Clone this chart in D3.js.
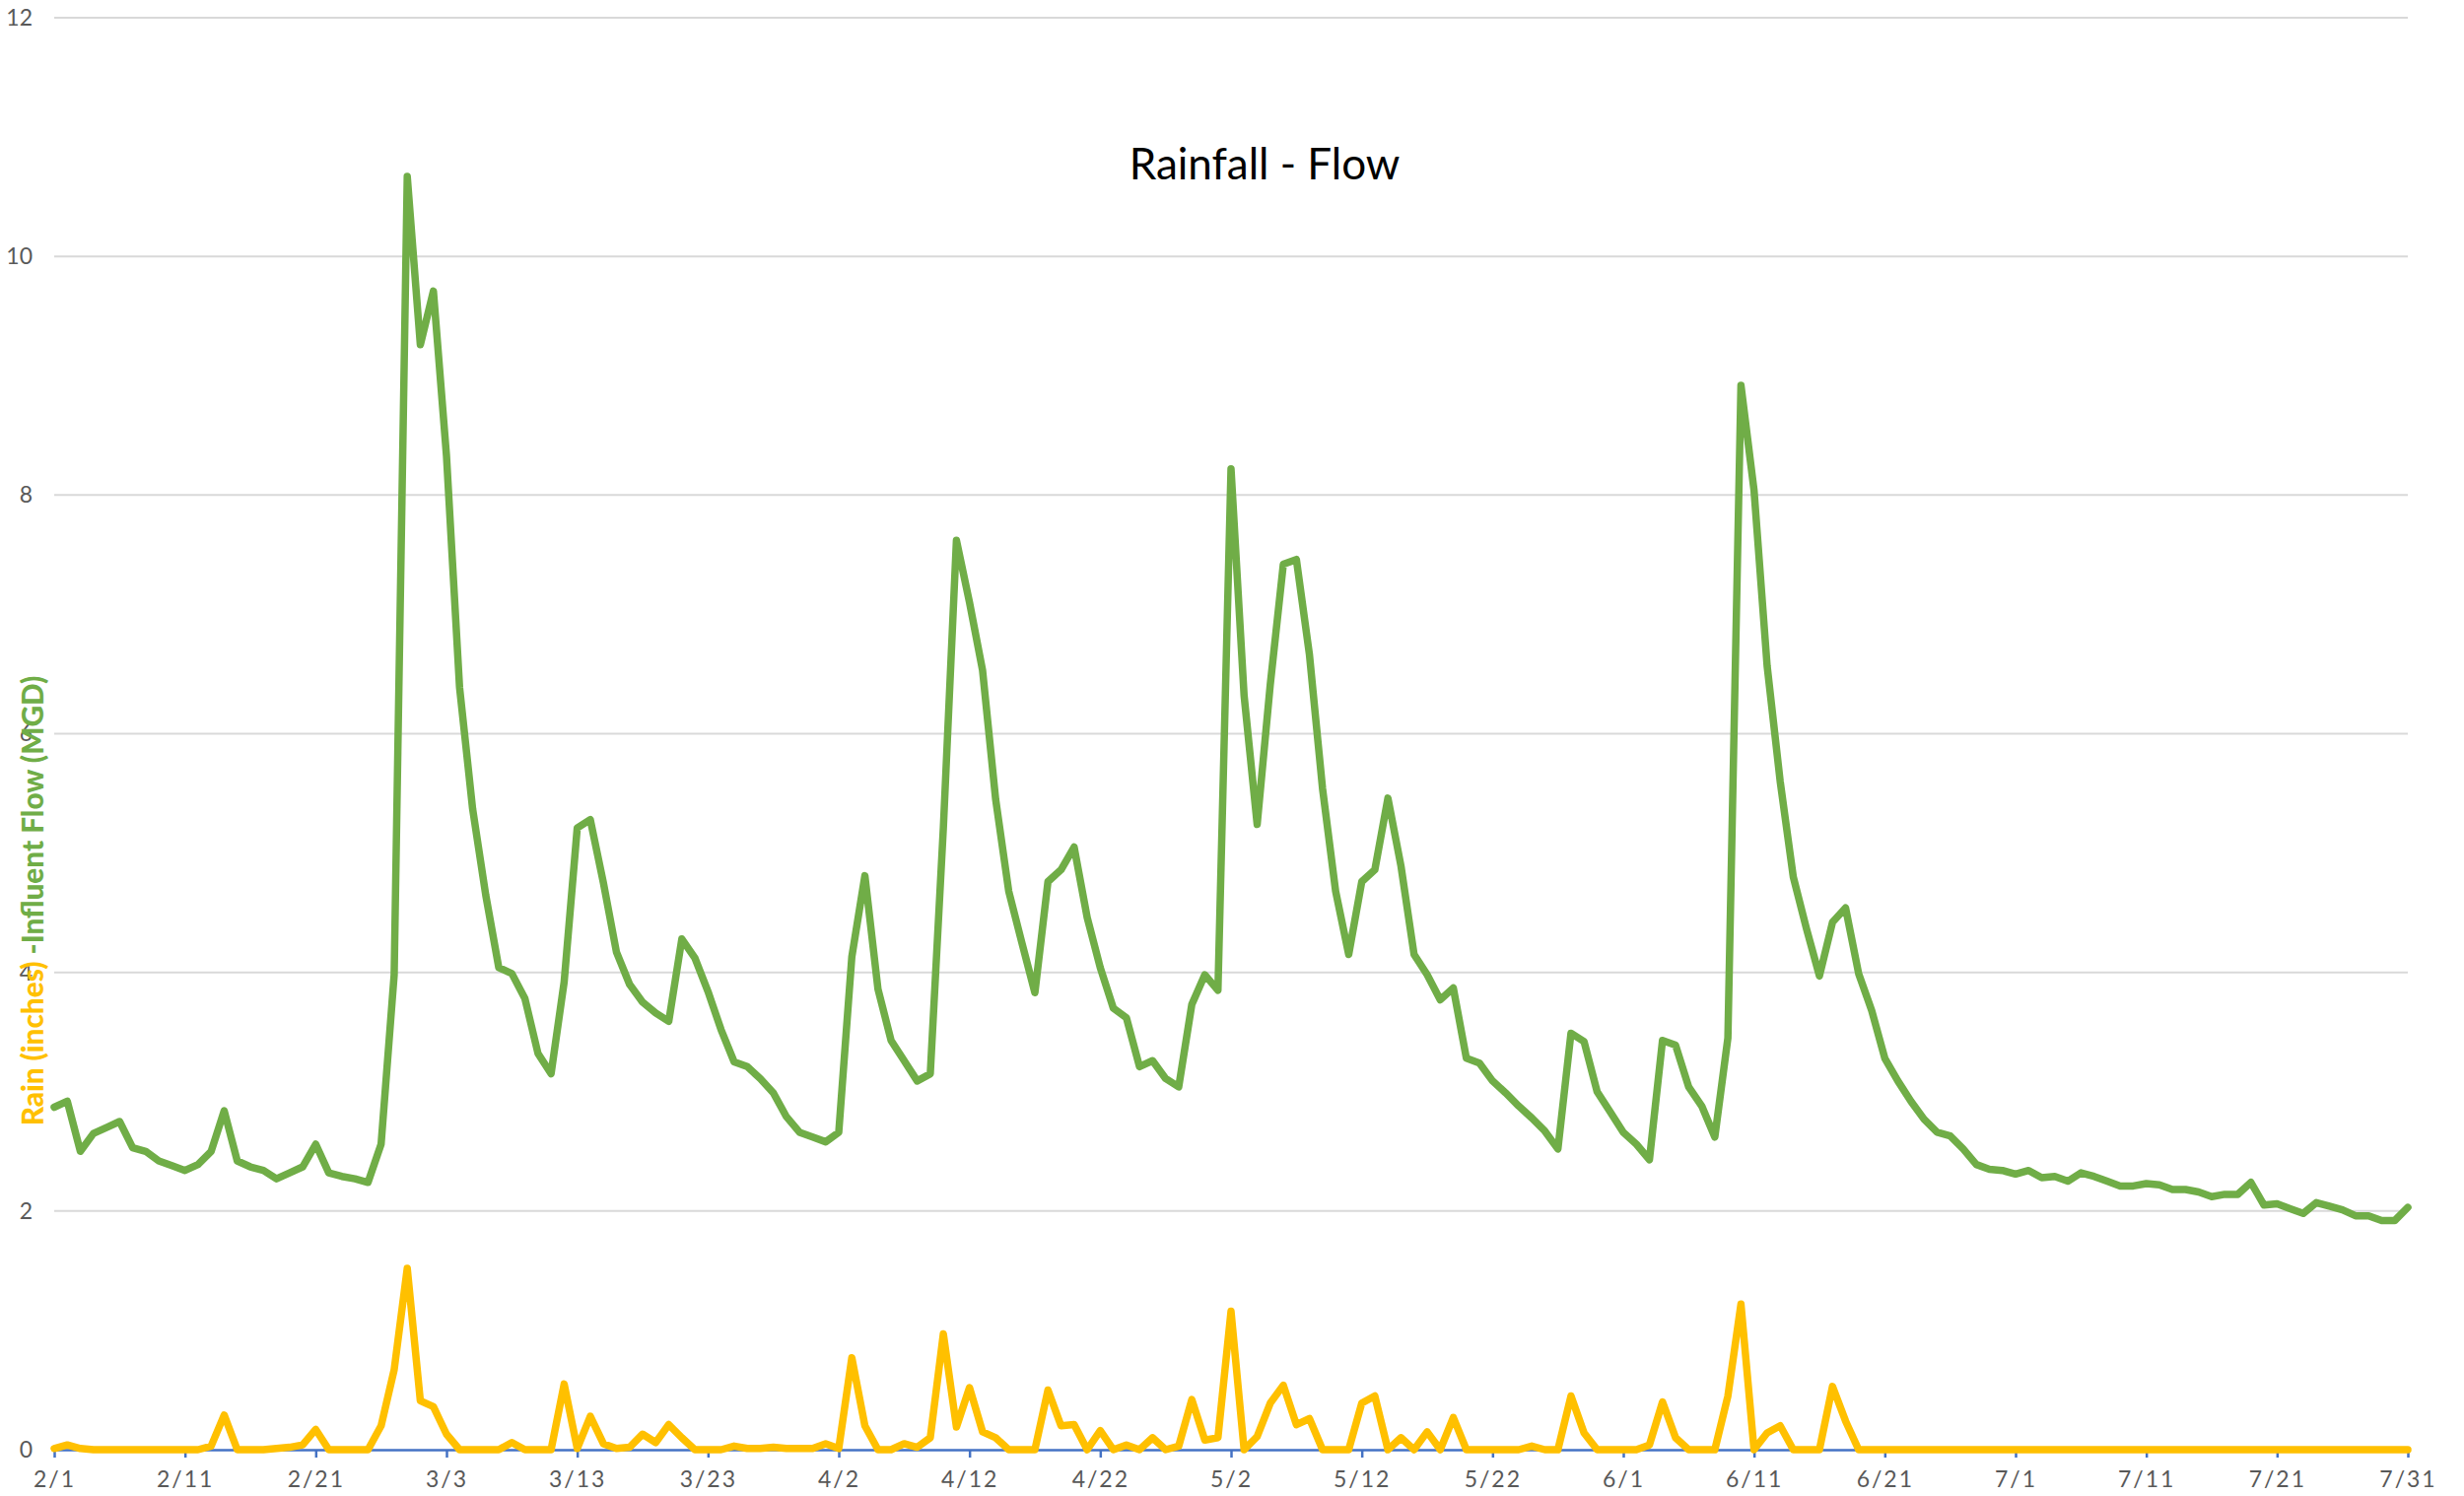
<!DOCTYPE html>
<html>
<head>
<meta charset="utf-8">
<script src="https://cdn.jsdelivr.net/npm/d3@7"></script>
<style>
  html, body { margin: 0; padding: 0; background: #fff; }
  svg { display: block; }
</style>
</head>
<body>
<svg id="chart" width="2500" height="1518"></svg>
<script>
// Daily categories, 2/1 through 7/31
const firstDay = new Date(2019, 1, 1);
const dayAfterLast = new Date(2019, 7, 1);
const fmtDay = d3.timeFormat("%-m/%-d");
const categories = d3.timeDay.range(firstDay, dayAfterLast).map(fmtDay);

// Labelled ticks on the date axis
const xTickLabels = ["2/1","2/11","2/21","3/3","3/13","3/23","4/2","4/12","4/22","5/2",
  "5/12","5/22","6/1","6/11","6/21","7/1","7/11","7/21","7/31"];
const yTickValues = [0, 2, 4, 6, 8, 10, 12];

// Influent flow (MGD), one value per day
const flow = [
  2.87, 2.92, 2.50, 2.65, 2.70, 2.75, 2.53, 2.50, 2.42, 2.38,
  2.34, 2.39, 2.50, 2.84, 2.42, 2.37, 2.34, 2.27, 2.32, 2.37,
  2.56, 2.32, 2.29, 2.27, 2.24, 2.56, 3.98, 10.67, 9.26, 9.71,
  8.33, 6.39, 5.37, 4.65, 4.04, 3.99, 3.78, 3.32, 3.15, 3.92,
  5.21, 5.28, 4.75, 4.17, 3.90, 3.75, 3.66, 3.59, 4.28, 4.12,
  3.84, 3.52, 3.25, 3.21, 3.11, 2.99, 2.79, 2.66, 2.62, 2.58,
  2.66, 4.13, 4.81, 3.86, 3.43, 3.26, 3.09, 3.15, 5.21, 7.62,
  7.10, 6.53, 5.45, 4.68, 4.25, 3.83, 4.76, 4.86, 5.05, 4.46,
  4.04, 3.70, 3.62, 3.21, 3.26, 3.11, 3.04, 3.73, 3.98, 3.85,
  8.22, 6.32, 5.24, 6.41, 7.42, 7.46, 6.66, 5.54, 4.68, 4.15,
  4.76, 4.86, 5.46, 4.89, 4.15, 3.98, 3.77, 3.87, 3.28, 3.24,
  3.09, 2.99, 2.88, 2.78, 2.67, 2.52, 3.49, 3.42, 3.00, 2.83,
  2.66, 2.56, 2.43, 3.43, 3.39, 3.04, 2.88, 2.62, 3.45, 8.92,
  8.04, 6.57, 5.60, 4.80, 4.37, 3.97, 4.42, 4.54, 3.99, 3.68,
  3.28, 3.09, 2.92, 2.77, 2.66, 2.63, 2.52, 2.39, 2.35, 2.34,
  2.31, 2.34, 2.28, 2.29, 2.25, 2.32, 2.29, 2.25, 2.21, 2.21,
  2.23, 2.22, 2.18, 2.18, 2.16, 2.12, 2.14, 2.14, 2.24, 2.05,
  2.06, 2.02, 1.98, 2.07, 2.04, 2.01, 1.96, 1.96, 1.92, 1.92,
  2.03
];

// Rainfall (inches), one value per day
const rain = [
  0.01, 0.04, 0.01, 0, 0, 0, 0, 0, 0, 0,
  0, 0, 0.03, 0.29, 0, 0, 0, 0.01, 0.02, 0.04,
  0.17, 0, 0, 0, 0, 0.20, 0.67, 1.52, 0.41, 0.36,
  0.13, 0, 0, 0, 0, 0.06, 0, 0, 0, 0.55,
  0.01, 0.28, 0.05, 0.01, 0.02, 0.13, 0.06, 0.21, 0.10, 0,
  0, 0, 0.03, 0.01, 0.01, 0.02, 0.01, 0.01, 0.01, 0.05,
  0.01, 0.77, 0.20, 0, 0, 0.05, 0.02, 0.10, 0.97, 0.19,
  0.52, 0.15, 0.10, 0, 0, 0, 0.50, 0.20, 0.21, 0,
  0.16, 0, 0.04, 0, 0.10, 0, 0.03, 0.42, 0.08, 0.10,
  1.16, 0, 0.11, 0.39, 0.54, 0.21, 0.26, 0, 0, 0,
  0.39, 0.45, 0, 0.10, 0, 0.15, 0, 0.27, 0, 0,
  0, 0, 0, 0.03, 0, 0, 0.45, 0.14, 0, 0,
  0, 0, 0.04, 0.40, 0.10, 0, 0, 0, 0.45, 1.22,
  0, 0.14, 0.20, 0, 0, 0, 0.53, 0.24, 0, 0,
  0, 0, 0, 0, 0, 0, 0, 0, 0, 0,
  0, 0, 0, 0, 0, 0, 0, 0, 0, 0,
  0, 0, 0, 0, 0, 0, 0, 0, 0, 0,
  0, 0, 0, 0, 0, 0, 0, 0, 0, 0,
  0
];

const chartTitle = "Rainfall - Flow";
const rainLabel = "Rain (inches) ";
const flowLabel = "-Influent Flow (MGD)";

const GREEN = "#70AD47", GOLD = "#FFC000", AXIS_BLUE = "#4472C4";
const FONT = "Lato, 'Open Sans', sans-serif";

const svg = d3.select("#chart");
const plotLeft = 55, plotRight = 2443, plotTop = 18, plotBottom = 1471;

const x = d3.scalePoint().domain(categories).range([plotLeft, plotRight]);
const y = d3.scaleLinear().domain([0, 12]).range([plotBottom, plotTop]);

// Horizontal gridlines
svg.append("g")
  .selectAll("line")
  .data(yTickValues.filter(v => v > 0))
  .join("line")
  .attr("x1", plotLeft).attr("x2", plotRight)
  .attr("y1", d => y(d)).attr("y2", d => y(d))
  .attr("stroke", "#D9D9D9").attr("stroke-width", 2);

// Value axis labels (no axis line)
const yAxis = svg.append("g")
  .attr("transform", `translate(${plotLeft},0)`)
  .call(d3.axisLeft(y).tickValues(yTickValues).tickSize(0).tickPadding(22).tickFormat(d3.format("d")));
yAxis.select(".domain").remove();
yAxis.selectAll("text")
  .attr("font-family", FONT).attr("font-size", 23).attr("fill", "#595959");

// Date axis
const xAxis = svg.append("g")
  .attr("transform", `translate(0,${plotBottom})`)
  .call(d3.axisBottom(x).tickValues(xTickLabels).tickSize(8).tickSizeOuter(0).tickPadding(14));
xAxis.select(".domain").attr("stroke", AXIS_BLUE).attr("stroke-width", 2.5);
xAxis.selectAll(".tick line").attr("stroke", AXIS_BLUE).attr("stroke-width", 2.5);
xAxis.selectAll("text")
  .attr("font-family", FONT).attr("font-size", 23).attr("fill", "#595959")
  .attr("letter-spacing", 2);

// Series lines
const line = vals => d3.line()
  .x((d, i) => x(categories[i]))
  .y(d => y(d))(vals);

svg.append("path")
  .attr("d", line(flow))
  .attr("fill", "none").attr("stroke", GREEN).attr("stroke-width", 7.5)
  .attr("stroke-linejoin", "round").attr("stroke-linecap", "round");

svg.append("path")
  .attr("d", line(rain))
  .attr("fill", "none").attr("stroke", GOLD).attr("stroke-width", 7.5)
  .attr("stroke-linejoin", "round").attr("stroke-linecap", "round");

// Title
svg.append("text")
  .attr("x", 1283).attr("y", 182)
  .attr("text-anchor", "middle")
  .attr("font-family", FONT).attr("font-size", 44).attr("fill", "#000")
  .text(chartTitle);

// Two-colour axis title, rotated
const yTitle = svg.append("text")
  .attr("transform", "translate(32,914) rotate(-90)")
  .attr("text-anchor", "middle")
  .attr("dominant-baseline", "central")
  .attr("font-family", FONT).attr("font-weight", 900).attr("font-size", 26);
yTitle.append("tspan").attr("fill", GOLD).text(rainLabel);
yTitle.append("tspan").attr("fill", GREEN).text(flowLabel);
const titleLen = yTitle.node().getComputedTextLength();
if (titleLen > 0) yTitle.attr("font-size", 26 * 457 / titleLen);
</script>
</body>
</html>
